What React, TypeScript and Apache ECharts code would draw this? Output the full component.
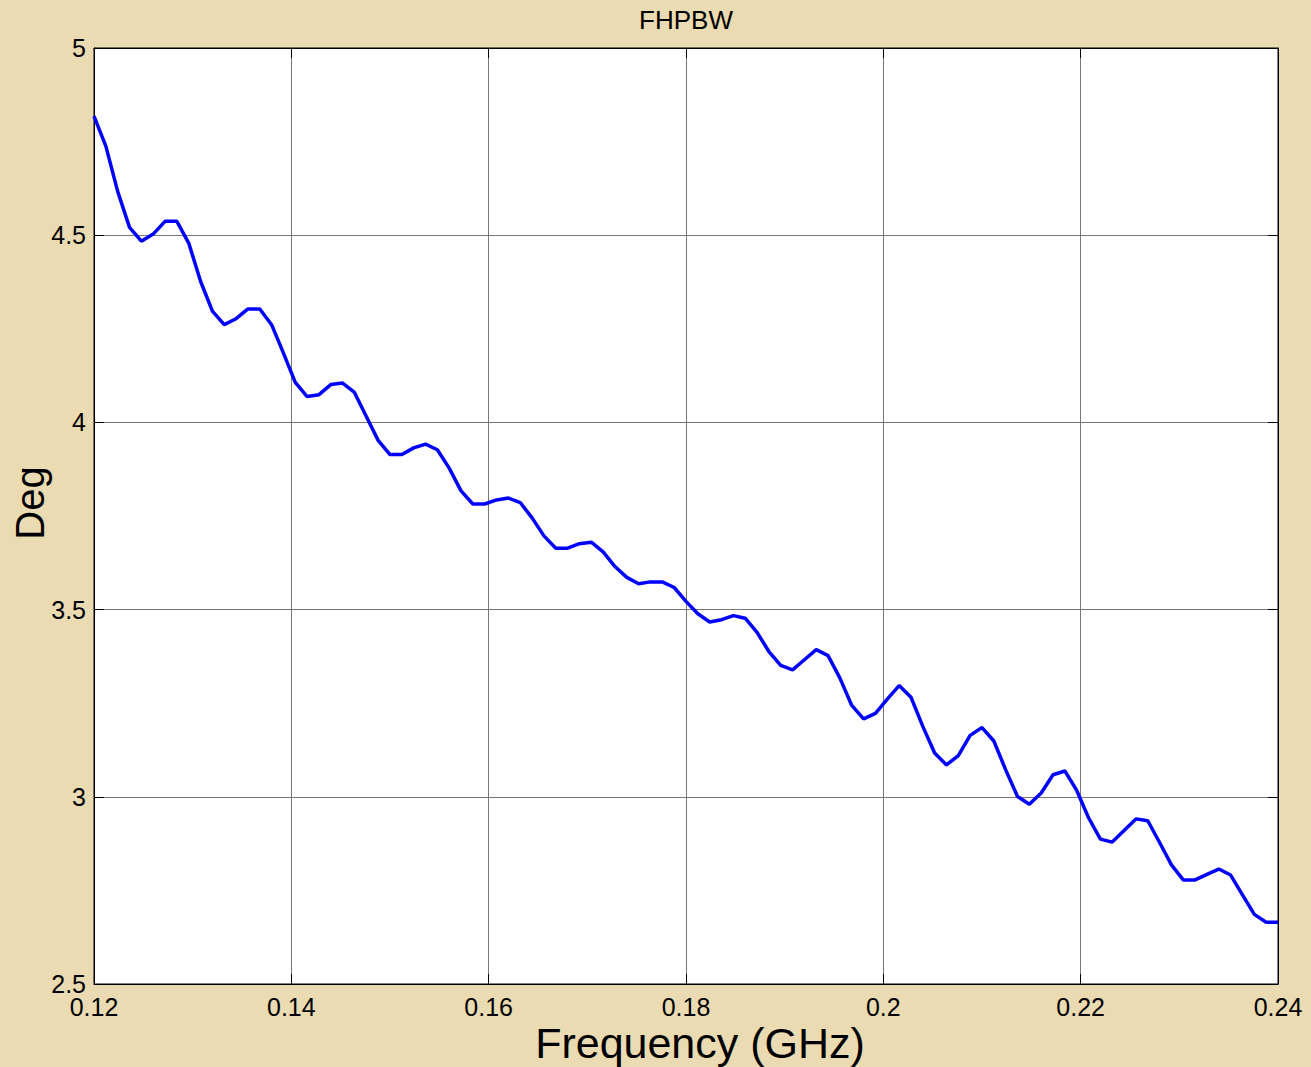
import React, { useEffect, useRef } from "react";
import * as echarts from "echarts";

const xStart = 0.12;
const xStep = 0.0012;
const degValues = [
  4.818, 4.738, 4.617, 4.521, 4.484, 4.503, 4.537, 4.537, 4.479, 4.377,
  4.297, 4.261, 4.277, 4.303, 4.303, 4.261, 4.185, 4.107, 4.069, 4.074,
  4.101, 4.105, 4.080, 4.016, 3.952, 3.914, 3.914, 3.932, 3.942, 3.927,
  3.878, 3.817, 3.782, 3.782, 3.793, 3.798, 3.786, 3.745, 3.697, 3.664,
  3.664, 3.676, 3.680, 3.654, 3.615, 3.586, 3.569, 3.574, 3.574, 3.559,
  3.522, 3.489, 3.467, 3.473, 3.484, 3.477, 3.439, 3.388, 3.351, 3.339,
  3.366, 3.393, 3.377, 3.317, 3.244, 3.208, 3.223, 3.261, 3.297, 3.266,
  3.188, 3.117, 3.085, 3.110, 3.164, 3.185, 3.149, 3.072, 3.001, 2.980,
  3.010, 3.059, 3.069, 3.017, 2.944, 2.887, 2.879, 2.910, 2.941, 2.936,
  2.878, 2.818, 2.778, 2.778, 2.793, 2.807, 2.791, 2.738, 2.686, 2.665,
  2.665,
];
const freqValues = degValues.map((_, i) => +(xStart + i * xStep).toFixed(4));

const xTicks = { min: 0.12, max: 0.24, interval: 0.02 };
const yTicks = { min: 2.5, max: 5, interval: 0.5 };
const titleText = "FHPBW";
const xName = "Frequency (GHz)";
const yName = "Deg";

const FONT = "'Liberation Sans', Arial, Helvetica, sans-serif";

export default function App() {
  const ref = useRef<HTMLDivElement>(null);
  useEffect(() => {
    if (!ref.current) return;
    const chart = echarts.init(ref.current, undefined, { renderer: "svg" });
    const fmt = (v: number) => String(+(+v).toFixed(2));
    chart.setOption({
      animation: false,
      backgroundColor: "#eadbb2",
      textStyle: { fontFamily: FONT },
      grid: {
        left: 94,
        top: 48,
        right: 33,
        bottom: 83,
        containLabel: false,
        outerBoundsMode: "none",
        show: true,
        backgroundColor: "#ffffff",
        borderColor: "#000",
        borderWidth: 1,
      },
      graphic: [
        {
          type: "text",
          x: 686,
          y: 20,
          style: {
            text: titleText,
            font: `26px ${FONT}`,
            fill: "#000",
            align: "center",
            verticalAlign: "middle",
          },
        },
        {
          type: "text",
          x: 700,
          y: 1043,
          style: {
            text: xName,
            font: `43px ${FONT}`,
            fill: "#000",
            align: "center",
            verticalAlign: "middle",
          },
        },
        {
          type: "text",
          x: 30,
          y: 503,
          rotation: Math.PI / 2,
          style: {
            text: yName,
            font: `40px ${FONT}`,
            fill: "#000",
            align: "center",
            verticalAlign: "middle",
          },
        },
      ],
      xAxis: [
        {
          type: "value",
          min: xTicks.min,
          max: xTicks.max,
          interval: xTicks.interval,
          position: "bottom",
          axisLine: { show: true, onZero: false, lineStyle: { color: "#000", width: 1 } },
          axisTick: { show: true, inside: true, length: 10, lineStyle: { color: "#000" } },
          axisLabel: {
            show: true,
            margin: 10,
            fontSize: 25,
            color: "#000",
            fontFamily: FONT,
            formatter: fmt,
            showMinLabel: true,
            showMaxLabel: true,
          },
          splitLine: { show: true, lineStyle: { color: "#777", width: 1 } },
        },
        {
          type: "value",
          min: xTicks.min,
          max: xTicks.max,
          interval: xTicks.interval,
          position: "top",
          axisLine: { show: true, onZero: false, lineStyle: { color: "#000", width: 1 } },
          axisTick: { show: true, inside: true, length: 10, lineStyle: { color: "#000" } },
          axisLabel: { show: false },
          splitLine: { show: false },
        },
      ],
      yAxis: [
        {
          type: "value",
          min: yTicks.min,
          max: yTicks.max,
          interval: yTicks.interval,
          position: "left",
          axisLine: { show: true, onZero: false, lineStyle: { color: "#000", width: 1 } },
          axisTick: { show: true, inside: true, length: 10, lineStyle: { color: "#000" } },
          axisLabel: {
            show: true,
            margin: 8,
            fontSize: 25,
            color: "#000",
            fontFamily: FONT,
            formatter: fmt,
            showMinLabel: true,
            showMaxLabel: true,
          },
          splitLine: { show: true, lineStyle: { color: "#777", width: 1 } },
        },
        {
          type: "value",
          min: yTicks.min,
          max: yTicks.max,
          interval: yTicks.interval,
          position: "right",
          axisLine: { show: true, onZero: false, lineStyle: { color: "#000", width: 1 } },
          axisTick: { show: true, inside: true, length: 10, lineStyle: { color: "#000" } },
          axisLabel: { show: false },
          splitLine: { show: false },
        },
      ],
      series: [
        {
          type: "line",
          xAxisIndex: 0,
          yAxisIndex: 0,
          data: freqValues.map((f, i) => [f, degValues[i]]),
          showSymbol: false,
          symbol: "none",
          lineStyle: { color: "#0000ff", width: 3.5 },
          itemStyle: { color: "#0000ff" },
          z: 5,
        },
      ],
    });
    return () => chart.dispose();
  }, []);
  return (
    <div
      ref={ref}
      style={{ position: "fixed", left: 0, top: 0, width: 1311, height: 1067 }}
    />
  );
}
